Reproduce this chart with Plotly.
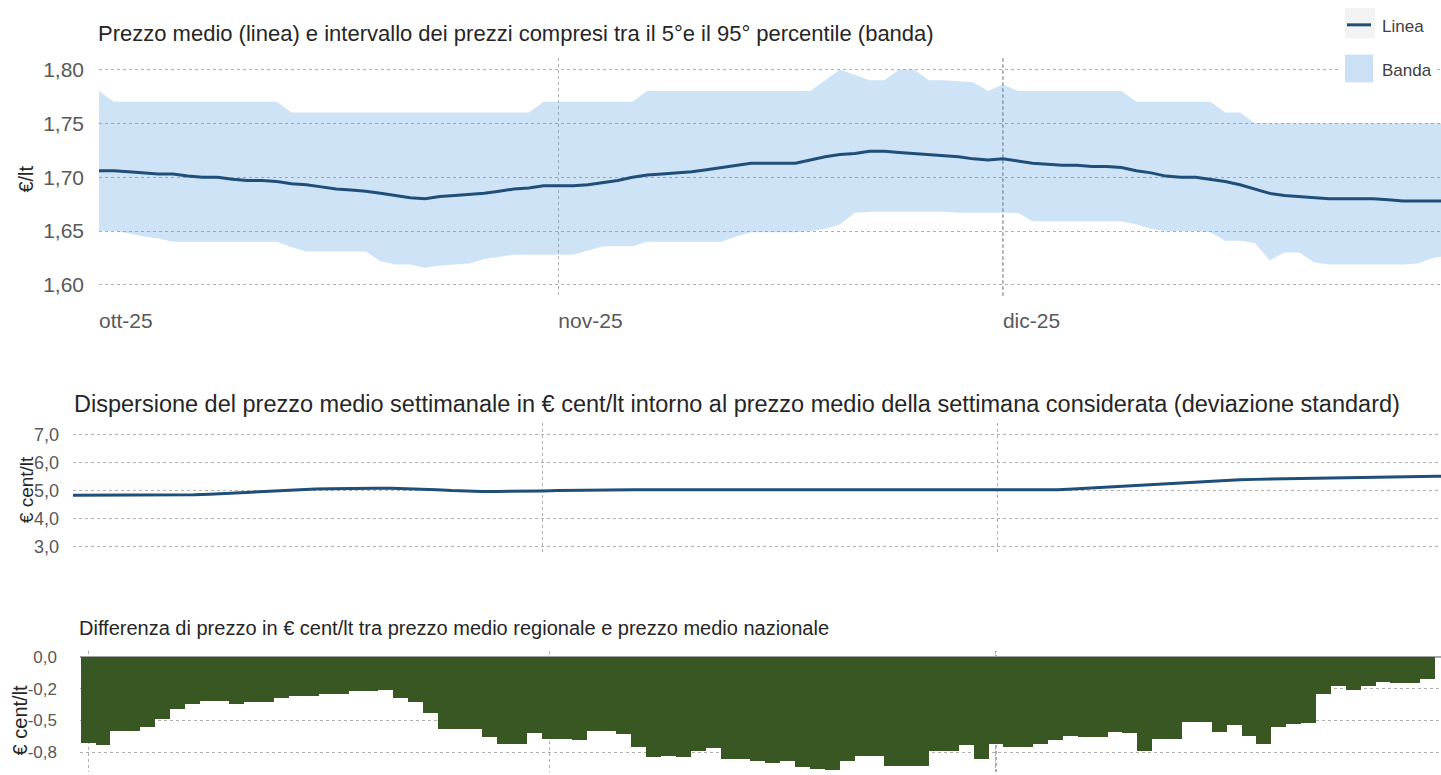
import pandas as pd
import plotly.graph_objects as go

############################################################
# S: Data ##################################################

# prezzo medio giornaliero, 1 ott - 31 dic
mean_price = [
  1.706, 1.706, 1.705, 1.704, 1.703, 1.703, 1.701, 1.700, 1.700, 1.698,
  1.697, 1.697, 1.696, 1.694, 1.693, 1.691, 1.689, 1.688, 1.687, 1.685,
  1.683, 1.681, 1.680, 1.682, 1.683, 1.684, 1.685, 1.687, 1.689, 1.690,
  1.692, 1.692, 1.692, 1.693, 1.695, 1.697, 1.700, 1.702, 1.703, 1.704,
  1.705, 1.707, 1.709, 1.711, 1.713, 1.713, 1.713, 1.713, 1.716, 1.719,
  1.721, 1.722, 1.724, 1.724, 1.723, 1.722, 1.721, 1.720, 1.719, 1.717,
  1.716, 1.717, 1.715, 1.713, 1.712, 1.711, 1.711, 1.710, 1.710, 1.709,
  1.706, 1.704, 1.701, 1.700, 1.700, 1.698, 1.696, 1.693, 1.689, 1.685,
  1.683, 1.682, 1.681, 1.680, 1.680, 1.680, 1.680, 1.679, 1.678, 1.678,
  1.678, 1.678,
]

# 95 percentile
band_high = [
  1.780, 1.770, 1.770, 1.770, 1.770, 1.770, 1.770, 1.770, 1.770, 1.770,
  1.770, 1.770, 1.770, 1.760, 1.760, 1.760, 1.760, 1.760, 1.760, 1.760,
  1.760, 1.760, 1.760, 1.760, 1.760, 1.760, 1.760, 1.760, 1.760, 1.760,
  1.770, 1.770, 1.770, 1.770, 1.770, 1.770, 1.770, 1.780, 1.780, 1.780,
  1.780, 1.780, 1.780, 1.780, 1.780, 1.780, 1.780, 1.780, 1.780, 1.790,
  1.800, 1.795, 1.790, 1.790, 1.800, 1.800, 1.790, 1.790, 1.789, 1.788,
  1.780, 1.786, 1.780, 1.780, 1.780, 1.780, 1.780, 1.780, 1.780, 1.780,
  1.770, 1.770, 1.770, 1.770, 1.770, 1.770, 1.760, 1.760, 1.750, 1.750,
  1.750, 1.750, 1.750, 1.750, 1.750, 1.750, 1.750, 1.750, 1.750, 1.750,
  1.750, 1.750,
]

# 5 percentile
band_low = [
  1.650, 1.650, 1.648, 1.645, 1.643, 1.640, 1.640, 1.640, 1.640, 1.640,
  1.640, 1.640, 1.640, 1.635, 1.631, 1.631, 1.631, 1.631, 1.631, 1.622,
  1.619, 1.619, 1.616, 1.618, 1.619, 1.620, 1.624, 1.626, 1.628, 1.628,
  1.628, 1.628, 1.628, 1.632, 1.636, 1.636, 1.636, 1.640, 1.640, 1.640,
  1.640, 1.640, 1.640, 1.645, 1.649, 1.649, 1.649, 1.649, 1.650, 1.652,
  1.656, 1.667, 1.668, 1.668, 1.668, 1.668, 1.668, 1.668, 1.667, 1.667,
  1.667, 1.667, 1.667, 1.659, 1.659, 1.659, 1.659, 1.659, 1.659, 1.659,
  1.656, 1.652, 1.650, 1.650, 1.650, 1.649, 1.641, 1.641, 1.639, 1.623,
  1.630, 1.630, 1.621, 1.619, 1.619, 1.619, 1.619, 1.619, 1.619, 1.620,
  1.625, 1.627,
]

# deviazione standard, cent/lt
std_dev = [
  4.83, 4.83, 4.83, 4.83, 4.83, 4.83, 4.83, 4.83, 4.85, 4.87,
  4.90, 4.93, 4.96, 4.99, 5.02, 5.04, 5.06, 5.07, 5.08, 5.08,
  5.08, 5.08, 5.07, 5.05, 5.03, 5.00, 4.98, 4.97, 4.97, 4.97,
  4.98, 4.99, 5.00, 5.01, 5.02, 5.03, 5.03, 5.03, 5.03, 5.03,
  5.03, 5.03, 5.03, 5.03, 5.03, 5.03, 5.03, 5.03, 5.03, 5.03,
  5.01, 5.01, 5.01, 5.01, 5.01, 5.01, 5.01, 5.01, 5.01, 5.01,
  5.01, 5.01, 5.01, 5.01, 5.01, 5.03, 5.06, 5.09, 5.12, 5.15,
  5.18, 5.21, 5.25, 5.28, 5.31, 5.34, 5.37, 5.39, 5.40, 5.41,
  5.42, 5.44, 5.45, 5.46, 5.46, 5.47, 5.48, 5.49, 5.49, 5.50,
  5.51, 5.51,
]

# differenza regionale - nazionale, cent/lt (1 ott - 30 dic)
regional_diff = [
  -0.680, -0.690, -0.580, -0.580, -0.550, -0.490, -0.410, -0.370, -0.350, -0.350,
  -0.370, -0.355, -0.355, -0.320, -0.310, -0.310, -0.290, -0.290, -0.270, -0.270,
  -0.260, -0.320, -0.355, -0.440, -0.570, -0.570, -0.570, -0.630, -0.685, -0.685,
  -0.600, -0.645, -0.645, -0.650, -0.586, -0.586, -0.610, -0.705, -0.790, -0.780,
  -0.785, -0.737, -0.716, -0.807, -0.807, -0.820, -0.836, -0.820, -0.867, -0.880,
  -0.890, -0.820, -0.780, -0.780, -0.860, -0.860, -0.860, -0.737, -0.737, -0.690,
  -0.800, -0.685, -0.710, -0.710, -0.685, -0.654, -0.620, -0.627, -0.627, -0.588,
  -0.600, -0.737, -0.646, -0.646, -0.508, -0.508, -0.588, -0.534, -0.620, -0.685,
  -0.555, -0.529, -0.516, -0.289, -0.229, -0.263, -0.229, -0.195, -0.203, -0.203,
  -0.177,
]

month_ticks = ['2025-10-01', '2025-11-01', '2025-12-01']
month_labels = ['ott-25', 'nov-25', 'dic-25']

price_ticks = [1.60, 1.65, 1.70, 1.75, 1.80]
std_ticks = [3, 4, 5, 6, 7]
diff_ticks = [0, -0.25, -0.5, -0.75]
diff_labels = ['0,0', '-0,2', '-0,5', '-0,8']

days = pd.date_range('2025-10-01', periods = len(mean_price), freq = 'D')

############################################################
# S: Style #################################################

W, H = 1441, 775
FONT = 'Liberation Sans, Arial, sans-serif'
GRID = '#b0b0b0'
TICK = '#595959'
TEXT = '#262626'
BLUE = '#1f4e79'
BAND = 'rgba(63, 143, 223, 0.25)'
BAND_KEY = '#cbe0f5'
GREEN = '#385723'

def px(x):
  return x / W

def py(y):
  return 1 - y / H

def xAxis(left, anchor, rng, labels):
  return dict(
    domain = [px(left), 1],
    anchor = anchor,
    type = 'date',
    range = rng,
    tickvals = month_ticks,
    ticktext = month_labels,
    showticklabels = labels,
    ticklabelposition = 'outside right',
    ticklabelstandoff = 10,
    tickfont = dict(size = 21, color = TICK),
    ticks = '',
    showgrid = True,
    gridcolor = GRID,
    griddash = 'dot',
    showline = False,
    zeroline = False,
  )

def yAxis(bottom, top, anchor, rng, vals, size, standoff):
  return dict(
    domain = [py(bottom), py(top)],
    anchor = anchor,
    range = rng,
    tickvals = vals,
    tickfont = dict(size = size, color = TICK),
    ticklabelstandoff = standoff,
    ticks = '',
    showgrid = True,
    gridcolor = GRID,
    griddash = 'dot',
    showline = False,
    zeroline = False,
  )

############################################################
# S: Plot ##################################################

fig = go.Figure()

fig.add_trace(go.Scatter(
  x = days, y = band_low,
  mode = 'lines', line = dict(width = 0),
  showlegend = False, hoverinfo = 'skip',
  xaxis = 'x', yaxis = 'y',
))
fig.add_trace(go.Scatter(
  x = days, y = band_high, name = 'Banda',
  mode = 'lines', line = dict(width = 0),
  fill = 'tonexty', fillcolor = BAND,
  xaxis = 'x', yaxis = 'y',
))
fig.add_trace(go.Scatter(
  x = days, y = mean_price, name = 'Linea',
  mode = 'lines', line = dict(color = BLUE, width = 3),
  xaxis = 'x', yaxis = 'y',
))

fig.add_trace(go.Scatter(
  x = days, y = std_dev, name = 'Dispersione',
  mode = 'lines', line = dict(color = BLUE, width = 3),
  xaxis = 'x2', yaxis = 'y2',
))

fig.add_trace(go.Bar(
  x = days[:len(regional_diff)], y = regional_diff, name = 'Differenza',
  marker = dict(color = GREEN, line = dict(width = 0)),
  xaxis = 'x3', yaxis = 'y3',
))

y1 = yAxis(295, 55, 'x', [1.59, 1.811], price_ticks, 21, 14)
y1['tickformat'] = '.2f'
y2 = yAxis(555, 423, 'x2', [2.75, 7.42], std_ticks, 18, 13)
y2['tickformat'] = '.1f'
y3 = yAxis(H, 653, 'x3', [-0.906, 0.047], diff_ticks, 17, 22)
y3['ticktext'] = diff_labels
y3['zeroline'] = True
y3['zerolinecolor'] = '#a6a6a6'
y3['zerolinewidth'] = 1.5

def title(text, x, y, size, angle = 0):
  return dict(
    text = text, x = px(x), y = py(y), xref = 'paper', yref = 'paper',
    xanchor = 'left' if angle == 0 else 'center', yanchor = 'middle',
    textangle = angle, showarrow = False,
    font = dict(size = size, color = TEXT),
  )

annotations = [
  title('Prezzo medio (linea) e intervallo dei prezzi compresi tra il 5°e il 95° percentile (banda)', 96, 31, 22),
  title('Dispersione del prezzo medio settimanale in € cent/lt intorno al prezzo medio della settimana considerata (deviazione standard)', 72, 404, 23.5),
  title('Differenza di prezzo in € cent/lt tra prezzo medio regionale e prezzo medio nazionale', 77, 630, 20),
  title('€/lt', 26, 178, 20, -90),
  title('€ cent/lt', 26, 491, 19, -90),
  title('€ cent/lt', 20, 723, 20, -90),
  dict(text = 'Linea', x = px(1380), y = py(24), xref = 'paper', yref = 'paper',
       xanchor = 'left', yanchor = 'middle', showarrow = False,
       font = dict(size = 17, color = '#404040')),
  dict(text = 'Banda', x = px(1380), y = py(68), xref = 'paper', yref = 'paper',
       xanchor = 'left', yanchor = 'middle', showarrow = False,
       font = dict(size = 17, color = '#404040')),
]

shapes = [
  # darker dotted marker for the start of December
  dict(type = 'line', xref = 'x', yref = 'y domain', x0 = month_ticks[2], x1 = month_ticks[2],
       y0 = 0, y1 = 1, line = dict(color = '#555555', width = 1, dash = 'dot'), layer = 'below'),
  dict(type = 'line', xref = 'x3', yref = 'y3 domain', x0 = month_ticks[2], x1 = month_ticks[2],
       y0 = 0, y1 = 1, line = dict(color = '#555555', width = 1, dash = 'dot'), layer = 'below'),
  # legend box
  dict(type = 'rect', xref = 'paper', yref = 'paper', x0 = px(1338), x1 = px(1437),
       y0 = py(88), y1 = py(0), fillcolor = 'white', line = dict(width = 0), layer = 'above'),
  dict(type = 'rect', xref = 'paper', yref = 'paper', x0 = px(1345), x1 = px(1375),
       y0 = py(36), y1 = py(5), fillcolor = '#f3f3f3', line = dict(width = 0), layer = 'above'),
  dict(type = 'line', xref = 'paper', yref = 'paper', x0 = px(1347), x1 = px(1371),
       y0 = py(22), y1 = py(22), line = dict(color = BLUE, width = 3), layer = 'above'),
  dict(type = 'rect', xref = 'paper', yref = 'paper', x0 = px(1345), x1 = px(1373),
       y0 = py(80), y1 = py(52), fillcolor = BAND_KEY, line = dict(width = 0), layer = 'above'),
]

fig.update_layout(
  width = W,
  height = H,
  margin = dict(l = 0, r = 0, t = 0, b = 0),
  paper_bgcolor = 'white',
  plot_bgcolor = 'white',
  font = dict(family = FONT, color = TEXT),
  separators = ',.',
  showlegend = False,
  bargap = 0,
  xaxis = xAxis(99, 'y', ['2025-10-01', '2025-12-30 13:30'], True),
  yaxis = y1,
  xaxis2 = xAxis(73, 'y2', ['2025-10-01', '2025-12-30 07:00'], False),
  yaxis2 = y2,
  xaxis3 = xAxis(80, 'y3', ['2025-09-30 11:00', '2025-12-30 21:36'], False),
  yaxis3 = y3,
  annotations = annotations,
  shapes = shapes,
)

# the page body has a default 8px margin: drop it so the figure fills the window
fig.write_html(
  'out.html',
  config = dict(displayModeBar = False),
  post_script = "document.body.style.margin = '0';",
)
